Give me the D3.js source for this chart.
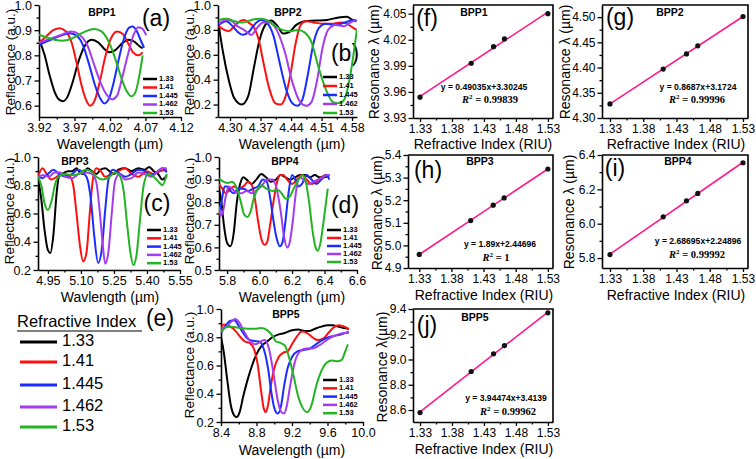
<!DOCTYPE html>
<html><head><meta charset="utf-8">
<script src="https://cdn.jsdelivr.net/npm/d3@7"></script>
<style>
body{margin:0;background:#fff}
svg text{font-family:"Liberation Sans",Arial,sans-serif;fill:#000}
</style></head>
<body><svg id="c" width="756" height="459"></svg>
<script>
// ---------- DATA ----------
const indices = ["1.33","1.41","1.445","1.462","1.53"];
const riu = [1.33, 1.41, 1.445, 1.462, 1.53];
const colors = ["#000000","#ff1010","#1a2cff","#a33cf0","#22b422"];

// Panel (a) BPP1 reflectance [wavelength, R]
const a133 = [[3.920,0.865],[3.928,0.80],[3.935,0.72],[3.942,0.655],[3.948,0.625],[3.954,0.618],[3.960,0.635],[3.967,0.69],[3.975,0.77],[3.984,0.835],[3.994,0.862],[4.004,0.85],[4.012,0.825],[4.019,0.812],[4.028,0.822],[4.038,0.85],[4.046,0.862],[4.054,0.855],[4.062,0.835],[4.066,0.828]];
const a141 = [[3.920,0.85],[3.930,0.875],[3.940,0.9],[3.949,0.908],[3.958,0.895],[3.966,0.85],[3.973,0.77],[3.980,0.68],[3.986,0.625],[3.992,0.60],[3.999,0.625],[4.006,0.70],[4.013,0.79],[4.021,0.865],[4.030,0.895],[4.038,0.885],[4.046,0.845],[4.053,0.81],[4.060,0.80],[4.066,0.812]];
const a1445 = [[3.920,0.843],[3.935,0.86],[3.950,0.878],[3.963,0.888],[3.972,0.88],[3.982,0.84],[3.991,0.76],[3.999,0.68],[4.006,0.63],[4.012,0.609],[4.018,0.625],[4.025,0.69],[4.032,0.78],[4.040,0.87],[4.047,0.91],[4.052,0.915],[4.058,0.895],[4.064,0.855],[4.068,0.83]];
const a1462 = [[3.920,0.85],[3.935,0.865],[3.950,0.88],[3.966,0.895],[3.976,0.885],[3.988,0.84],[3.998,0.76],[4.007,0.69],[4.015,0.645],[4.023,0.625],[4.030,0.64],[4.037,0.71],[4.045,0.80],[4.053,0.88],[4.060,0.912],[4.066,0.905],[4.071,0.88]];
const a153 = [[3.920,0.882],[3.930,0.872],[3.942,0.862],[3.953,0.858],[3.965,0.865],[3.978,0.885],[3.990,0.9],[3.998,0.905],[4.008,0.895],[4.018,0.855],[4.027,0.79],[4.036,0.71],[4.044,0.655],[4.050,0.637],[4.056,0.655],[4.062,0.73],[4.066,0.80]];

// Panel (b) BPP2
const b133 = [[4.274,0.84],[4.284,0.62],[4.297,0.40],[4.310,0.25],[4.327,0.20],[4.342,0.27],[4.355,0.50],[4.368,0.72],[4.381,0.84],[4.394,0.875],[4.409,0.83],[4.422,0.77],[4.435,0.78],[4.452,0.84],[4.471,0.87],[4.497,0.875],[4.523,0.88],[4.549,0.90],[4.568,0.905],[4.581,0.88],[4.590,0.87]];
const b141 = [[4.274,0.83],[4.287,0.80],[4.297,0.79],[4.310,0.83],[4.323,0.87],[4.332,0.88],[4.342,0.86],[4.355,0.82],[4.366,0.72],[4.376,0.55],[4.390,0.33],[4.404,0.21],[4.416,0.20],[4.426,0.25],[4.439,0.45],[4.451,0.70],[4.462,0.84],[4.475,0.87],[4.491,0.86],[4.510,0.85],[4.536,0.85],[4.555,0.86],[4.568,0.85],[4.581,0.82],[4.590,0.80]];
const b1445 = [[4.274,0.84],[4.291,0.87],[4.306,0.83],[4.319,0.78],[4.329,0.76],[4.342,0.78],[4.358,0.85],[4.371,0.88],[4.384,0.86],[4.400,0.75],[4.413,0.55],[4.429,0.32],[4.443,0.21],[4.454,0.19],[4.466,0.24],[4.479,0.45],[4.492,0.70],[4.505,0.82],[4.520,0.85],[4.538,0.84],[4.555,0.85],[4.572,0.87],[4.585,0.88],[4.590,0.87]];
const b1462 = [[4.274,0.85],[4.291,0.88],[4.304,0.87],[4.317,0.83],[4.332,0.80],[4.349,0.76],[4.363,0.82],[4.376,0.86],[4.391,0.86],[4.407,0.80],[4.426,0.62],[4.443,0.38],[4.461,0.22],[4.475,0.19],[4.487,0.22],[4.500,0.40],[4.512,0.65],[4.525,0.80],[4.542,0.84],[4.562,0.83],[4.577,0.86],[4.590,0.88]];
const b153 = [[4.274,0.88],[4.291,0.89],[4.310,0.87],[4.329,0.86],[4.349,0.88],[4.368,0.89],[4.384,0.88],[4.400,0.84],[4.420,0.80],[4.439,0.79],[4.456,0.80],[4.471,0.78],[4.487,0.70],[4.503,0.50],[4.520,0.32],[4.536,0.22],[4.549,0.21],[4.562,0.24],[4.574,0.40],[4.584,0.62],[4.591,0.80]];

// Panel (c) BPP3
const c133 = [[4.905,0.85],[4.920,0.70],[4.935,0.48],[4.950,0.34],[4.961,0.32],[4.975,0.45],[4.990,0.75],[5.000,0.86],[5.015,0.88],[5.040,0.90],[5.060,0.90],[5.080,0.92],[5.095,0.89],[5.110,0.88],[5.130,0.92],[5.150,0.90],[5.170,0.88],[5.190,0.91],[5.210,0.92],[5.230,0.90],[5.250,0.88],[5.270,0.91],[5.300,0.92],[5.330,0.90],[5.360,0.92],[5.390,0.91],[5.410,0.93],[5.430,0.90],[5.450,0.88],[5.470,0.84],[5.490,0.87]];
const c141 = [[4.905,0.86],[4.925,0.92],[4.945,0.88],[4.965,0.84],[4.990,0.86],[5.010,0.88],[5.030,0.87],[5.050,0.86],[5.065,0.80],[5.080,0.60],[5.095,0.38],[5.110,0.26],[5.125,0.32],[5.140,0.60],[5.155,0.85],[5.170,0.92],[5.190,0.90],[5.210,0.86],[5.240,0.88],[5.270,0.90],[5.300,0.92],[5.330,0.88],[5.360,0.86],[5.400,0.90],[5.430,0.88],[5.460,0.90],[5.490,0.91]];
const c1445 = [[4.905,0.87],[4.925,0.85],[4.950,0.88],[4.975,0.91],[5.000,0.88],[5.030,0.86],[5.060,0.88],[5.085,0.91],[5.110,0.89],[5.130,0.84],[5.145,0.70],[5.160,0.45],[5.178,0.25],[5.195,0.35],[5.210,0.62],[5.225,0.84],[5.245,0.91],[5.270,0.89],[5.300,0.86],[5.330,0.88],[5.360,0.91],[5.390,0.90],[5.420,0.87],[5.450,0.90],[5.470,0.92],[5.490,0.89]];
const c1462 = [[4.905,0.86],[4.930,0.87],[4.955,0.86],[4.980,0.89],[5.005,0.89],[5.030,0.86],[5.060,0.85],[5.090,0.88],[5.120,0.89],[5.150,0.88],[5.170,0.82],[5.185,0.62],[5.198,0.40],[5.210,0.245],[5.225,0.33],[5.240,0.60],[5.255,0.83],[5.275,0.88],[5.300,0.84],[5.330,0.85],[5.360,0.89],[5.390,0.88],[5.420,0.86],[5.450,0.90],[5.470,0.92],[5.490,0.92]];
const c153 = [[4.905,0.86],[4.920,0.80],[4.935,0.67],[4.950,0.625],[4.965,0.68],[4.985,0.82],[5.005,0.87],[5.030,0.88],[5.060,0.87],[5.090,0.88],[5.120,0.91],[5.145,0.90],[5.170,0.86],[5.200,0.84],[5.230,0.86],[5.255,0.89],[5.275,0.87],[5.295,0.75],[5.310,0.52],[5.325,0.32],[5.338,0.235],[5.352,0.30],[5.368,0.55],[5.385,0.80],[5.405,0.88],[5.430,0.86],[5.455,0.82],[5.470,0.80],[5.490,0.88]];

// Panel (d) BPP4
const d133 = [[5.750,0.86],[5.765,0.80],[5.780,0.70],[5.800,0.62],[5.820,0.605],[5.840,0.66],[5.860,0.80],[5.880,0.88],[5.900,0.91],[5.920,0.90],[5.950,0.88],[5.980,0.90],[6.010,0.925],[6.040,0.91],[6.070,0.89],[6.100,0.90],[6.130,0.92],[6.160,0.91],[6.190,0.90],[6.220,0.91],[6.250,0.92],[6.280,0.92],[6.310,0.91],[6.340,0.92],[6.370,0.91],[6.400,0.91],[6.430,0.92]];
const d141 = [[5.750,0.88],[5.770,0.86],[5.790,0.84],[5.810,0.85],[5.840,0.87],[5.870,0.86],[5.900,0.87],[5.930,0.89],[5.950,0.88],[5.970,0.82],[5.990,0.72],[6.010,0.64],[6.030,0.612],[6.045,0.62],[6.065,0.70],[6.085,0.80],[6.105,0.88],[6.125,0.92],[6.145,0.92],[6.170,0.90],[6.200,0.88],[6.230,0.90],[6.260,0.92],[6.290,0.90],[6.320,0.88],[6.350,0.89],[6.380,0.91],[6.410,0.92],[6.430,0.92]];
const d1445 = [[5.750,0.75],[5.765,0.80],[5.785,0.87],[5.800,0.87],[5.820,0.85],[5.840,0.84],[5.870,0.86],[5.900,0.86],[5.930,0.85],[5.960,0.86],[5.990,0.87],[6.020,0.90],[6.045,0.89],[6.065,0.82],[6.085,0.72],[6.105,0.64],[6.125,0.605],[6.140,0.62],[6.160,0.72],[6.180,0.85],[6.200,0.92],[6.220,0.90],[6.240,0.87],[6.260,0.88],[6.290,0.92],[6.320,0.90],[6.350,0.88],[6.380,0.90],[6.410,0.92],[6.430,0.90]];
const d1462 = [[5.750,0.78],[5.760,0.74],[5.775,0.76],[5.790,0.82],[5.810,0.87],[5.830,0.86],[5.860,0.84],[5.890,0.84],[5.920,0.85],[5.950,0.84],[5.980,0.85],[6.010,0.87],[6.050,0.90],[6.080,0.90],[6.105,0.86],[6.130,0.76],[6.150,0.65],[6.170,0.60],[6.185,0.62],[6.205,0.72],[6.225,0.85],[6.245,0.91],[6.270,0.90],[6.300,0.88],[6.330,0.89],[6.360,0.90],[6.390,0.91],[6.420,0.92],[6.430,0.92]];
const d153 = [[5.750,0.905],[5.780,0.89],[5.805,0.885],[5.830,0.89],[5.860,0.86],[5.885,0.80],[5.905,0.745],[5.925,0.735],[5.945,0.76],[5.965,0.82],[5.990,0.86],[6.010,0.875],[6.040,0.86],[6.080,0.85],[6.110,0.855],[6.140,0.835],[6.160,0.815],[6.180,0.82],[6.210,0.86],[6.240,0.90],[6.265,0.92],[6.285,0.89],[6.305,0.80],[6.325,0.68],[6.345,0.60],[6.358,0.585],[6.375,0.62],[6.395,0.72],[6.420,0.86]];

// Panel (e) BPP5
const e133 = [[8.400,0.80],[8.430,0.70],[8.470,0.50],[8.510,0.32],[8.545,0.25],[8.575,0.235],[8.610,0.27],[8.650,0.38],[8.700,0.50],[8.750,0.60],[8.800,0.68],[8.860,0.74],[8.920,0.77],[8.980,0.80],[9.050,0.82],[9.120,0.83],[9.200,0.85],[9.270,0.855],[9.340,0.845],[9.400,0.845],[9.460,0.86],[9.530,0.875],[9.600,0.885],[9.660,0.885],[9.720,0.875],[9.780,0.865],[9.840,0.86]];
const e141 = [[8.400,0.86],[8.430,0.89],[8.470,0.885],[8.520,0.87],[8.570,0.84],[8.620,0.80],[8.670,0.77],[8.720,0.76],[8.770,0.72],[8.810,0.62],[8.850,0.43],[8.880,0.30],[8.905,0.27],[8.930,0.32],[8.960,0.45],[9.000,0.58],[9.050,0.66],[9.100,0.69],[9.150,0.70],[9.200,0.75],[9.260,0.81],[9.310,0.84],[9.370,0.83],[9.430,0.80],[9.490,0.78],[9.550,0.79],[9.610,0.83],[9.670,0.87],[9.730,0.885],[9.790,0.875],[9.840,0.855]];
const e1445 = [[8.400,0.83],[8.450,0.88],[8.500,0.915],[8.550,0.92],[8.600,0.88],[8.650,0.83],[8.700,0.79],[8.760,0.775],[8.830,0.77],[8.880,0.72],[8.930,0.58],[8.970,0.40],[9.000,0.30],[9.040,0.26],[9.075,0.31],[9.110,0.45],[9.150,0.58],[9.200,0.66],[9.260,0.70],[9.330,0.71],[9.400,0.72],[9.470,0.75],[9.540,0.78],[9.610,0.80],[9.680,0.81],[9.750,0.82],[9.840,0.84]];
const e1462 = [[8.400,0.85],[8.450,0.87],[8.500,0.90],[8.560,0.93],[8.610,0.90],[8.660,0.84],[8.720,0.78],[8.790,0.75],[8.850,0.77],[8.890,0.78],[8.940,0.72],[8.990,0.55],[9.040,0.35],[9.080,0.27],[9.110,0.26],[9.140,0.31],[9.180,0.46],[9.230,0.62],[9.290,0.70],[9.360,0.72],[9.430,0.72],[9.500,0.74],[9.570,0.77],[9.640,0.80],[9.720,0.82],[9.800,0.83],[9.840,0.83]];
const e153 = [[8.400,0.84],[8.450,0.87],[8.500,0.875],[8.560,0.87],[8.620,0.865],[8.700,0.86],[8.780,0.86],[8.850,0.865],[8.920,0.85],[8.980,0.81],[9.020,0.77],[9.070,0.76],[9.120,0.74],[9.170,0.65],[9.220,0.52],[9.270,0.38],[9.320,0.30],[9.370,0.27],[9.420,0.32],[9.470,0.45],[9.530,0.56],[9.590,0.62],[9.650,0.635],[9.710,0.63],[9.760,0.64],[9.800,0.70],[9.830,0.75]];

// Resonance wavelength vs refractive index (f)-(j)
const res1 = [3.954, 3.993, 4.012, 4.021, 4.050];
const res2 = [4.328, 4.397, 4.427, 4.443, 4.501];
const res3 = [4.960, 5.110, 5.178, 5.210, 5.338];
const res4 = [5.820, 6.040, 6.133, 6.176, 6.355];
const res5 = [8.580, 8.905, 9.045, 9.110, 9.370];

// tick labels
const ticksXa = [3.92,3.97,4.02,4.07,4.12];
const ticksXb = [4.30,4.37,4.44,4.51,4.58];
const ticksXc = [4.95,5.10,5.25,5.40,5.55];
const ticksXd = [5.8,6.0,6.2,6.4,6.6];
const ticksXe = [8.4,8.8,9.2,9.6,10.0];
const ticksYa = [0.6,0.7,0.8,0.9,1.0];
const ticksYb = [0.2,0.4,0.6,0.8,1.0];
const ticksYd = [0.5,0.6,0.7,0.8,0.9,1.0];
const ticksRIU = [1.33,1.38,1.43,1.48,1.53];
const ticksYf = [3.93,3.96,3.99,4.02,4.05];
const ticksYg = [4.30,4.35,4.40,4.45,4.50];
const ticksYh = [4.9,5.0,5.1,5.2,5.3,5.4];
const ticksYi = [5.8,6.0,6.2,6.4];
const ticksYj = [8.6,8.8,9.0,9.2,9.4];

const eqs = ["y = 0.49035x+3.30245","y = 0.8687x+3.1724","y = 1.89x+2.44696","y = 2.68695x+2.24896","y = 3.94474x+3.4139"];
const r2s = ["0.99839","0.99996","1","0.99992","0.99962"];

// ---------- DRAWING ----------
const svg = d3.select("#c");
svg.append("rect").attr("width",756).attr("height",459).attr("fill","#fff");

function mids(t, dom){
  const m=[];
  for(let i=0;i<t.length-1;i++) m.push((t[i]+t[i+1])/2);
  const s=t[1]-t[0];
  if(t[0]-s/2>=Math.min(...dom)-1e-9) m.unshift(t[0]-s/2);
  if(t[t.length-1]+s/2<=Math.max(...dom)+1e-9) m.push(t[t.length-1]+s/2);
  return m;
}

function frame(c){
  const g = svg.append("g");
  const x = d3.scaleLinear().domain(c.xd).range([c.l,c.r]);
  const y = d3.scaleLinear().domain(c.yd).range([c.b,c.t]);
  g.append("g").attr("transform",`translate(0,${c.b})`)
    .call(d3.axisBottom(x).tickValues(mids(c.xt,c.xd)).tickSize(2.5).tickFormat(""))
    .call(s=>s.select(".domain").remove());
  g.append("g").attr("transform",`translate(${c.l},0)`)
    .call(d3.axisLeft(y).tickValues(mids(c.yt,c.yd)).tickSize(2.5).tickFormat(""))
    .call(s=>s.select(".domain").remove());
  g.append("g").attr("transform",`translate(0,${c.b})`)
    .call(d3.axisBottom(x).tickValues(c.xt).tickFormat(d3.format(c.xf)).tickSize(4).tickSizeOuter(0).tickPadding(c.tp||2));
  g.append("g").attr("transform",`translate(${c.l},0)`)
    .call(d3.axisLeft(y).tickValues(c.yt).tickFormat(d3.format(c.yf)).tickSize(4.5).tickSizeOuter(0).tickPadding(c.tp||2.5));
  g.selectAll(".tick line").attr("stroke","#000").attr("stroke-width",1.3);
  g.selectAll(".domain").attr("stroke","#000").attr("stroke-width",1.6);
  g.selectAll(".tick text").attr("font-size",c.tf||12.5).attr("font-family",'"Liberation Sans",Arial,sans-serif').attr("fill","#000");
  if(c.box){
    g.append("path").attr("d",`M${c.l},${c.t}H${c.r}V${c.b}`).attr("fill","none").attr("stroke","#000").attr("stroke-width",1.6);
  }
  g.append("text").attr("x",c.xlx).attr("y",c.xly).attr("text-anchor","middle").attr("dominant-baseline","middle")
    .attr("font-size",14).text(c.xlab);
  g.append("text").attr("transform",`translate(${c.ylx},${c.yly}) rotate(-90)`).attr("text-anchor","middle")
    .attr("dominant-baseline","middle").attr("font-size",c.ylf||13.5).text(c.ylab);
  if(c.tag[0]) g.append("text").attr("x",c.tag[1]).attr("y",c.tag[2]).attr("text-anchor","middle").attr("dominant-baseline","middle")
    .attr("font-size",23).text(c.tag[0]);
  g.append("text").attr("x",c.bpp[1]).attr("y",c.bpp[2]).attr("text-anchor","middle").attr("dominant-baseline","middle")
    .attr("font-size",10.5).attr("font-weight","bold").text(c.bpp[0]);
  return {g,x,y};
}

function reflPanel(c, series){
  const {g,x,y} = frame(c);
  const id = "clip"+c.bpp[0];
  svg.append("clipPath").attr("id",id).append("rect").attr("x",c.l).attr("y",c.t-3).attr("width",c.r-c.l).attr("height",c.b-c.t+3);
  const line = d3.line().x(d=>x(d[0])).y(d=>y(d[1])).curve(d3.curveMonotoneX);
  series.forEach((s,i)=>{
    g.append("path").datum(s).attr("d",line).attr("fill","none").attr("stroke",colors[i])
      .attr("stroke-width",2).attr("clip-path",`url(#${id})`);
  });
  const lg = g.append("g");
  indices.forEach((t,i)=>{
    const yy = c.leg[1] + i*c.leg[2];
    lg.append("line").attr("x1",c.leg[0]).attr("x2",c.leg[0]+14).attr("y1",yy).attr("y2",yy)
      .attr("stroke",colors[i]).attr("stroke-width",2.5);
    lg.append("text").attr("x",c.leg[0]+16).attr("y",yy).attr("dominant-baseline","middle")
      .attr("font-size",7.5).attr("font-weight","bold").text(t);
  });
}

function fitPanel(c, res, k){
  const {g,x,y} = frame(c);
  const mx = d3.mean(riu), my = d3.mean(res);
  const sl = d3.sum(riu.map((v,i)=>(v-mx)*(res[i]-my)))/d3.sum(riu.map(v=>(v-mx)*(v-mx)));
  const ic = my - sl*mx;
  const ends = [riu[0], riu[riu.length-1]];
  g.append("line").attr("x1",x(ends[0])).attr("y1",y(ic+sl*ends[0])).attr("x2",x(ends[1])).attr("y2",y(ic+sl*ends[1]))
    .attr("stroke","#ff1a8c").attr("stroke-width",1.6);
  g.selectAll("circle.p").data(riu).enter().append("circle")
    .attr("cx",d=>x(d)).attr("cy",(d,i)=>y(res[i])).attr("r",2.6).attr("fill","#111");
  g.append("text").attr("x",c.eq[0]).attr("y",c.eq[1]).attr("text-anchor","middle").attr("dominant-baseline","middle")
    .attr("font-size",8.6).attr("font-weight","bold").attr("fill","#1c2466")
    .style("font-family",'"Liberation Sans Narrow","Arial Narrow","Liberation Sans",Arial,sans-serif')
    .text(eqs[k]);
  const t = g.append("text").attr("x",c.r2[0]).attr("y",c.r2[1]).attr("text-anchor","middle").attr("dominant-baseline","middle")
    .attr("font-size",10.5).attr("font-weight","bold").attr("fill","#222")
    .style("font-family",'"Liberation Serif","DejaVu Serif",serif');
  t.append("tspan").attr("font-style","italic").text("R");
  t.append("tspan").attr("font-size",7).attr("dy",-4).text("2");
  t.append("tspan").attr("dy",4).text(" = "+r2s[k]);
}

const WL = "Wavelength (\u00b5m)";
const RF = "Reflectance (a.u.)";
const RI = "Refractive Index (RIU)";
const RL = "Resonance \u03bb (\u00b5m)";

reflPanel({l:39,r:181,t:5,b:117,xd:[3.92,4.12],yd:[0.555,1.0],xt:ticksXa,yt:ticksYa,xf:".2f",yf:".1f",
  xlab:WL,xlx:110,xly:145,ylab:RF,ylx:11,yly:62,tag:["(a)",156,20],bpp:["BPP1",102,13],leg:[143,79,8.5]},
  [a133,a141,a1445,a1462,a153]);
reflPanel({l:218,r:357,t:5,b:117,xd:[4.2725,4.5913],yd:[0.1,1.0],xt:ticksXb,yt:ticksYb,xf:".2f",yf:".1f",
  xlab:WL,xlx:292,xly:145,ylab:RF,ylx:190,yly:62,tag:["(b)",345,55],bpp:["BPP2",288,13],leg:[323,77,9]},
  [b133,b141,b1445,b1462,b153]);
reflPanel({l:38,r:180,t:157,b:270,xd:[4.905,5.55],yd:[0.2,1.0],xt:ticksXc,yt:ticksYb,xf:".2f",yf:".1f",
  xlab:"Wavlength (\u00b5m)",xlx:110,xly:298,ylab:RF,ylx:10,yly:211,tag:["(c)",157,205],bpp:["BPP3",75,162],leg:[147,230,8.3]},
  [c133,c141,c1445,c1462,c153]);
reflPanel({l:219,r:357,t:157,b:270,xd:[5.75,6.6],yd:[0.5,1.0],xt:ticksXd,yt:ticksYd,xf:".1f",yf:".1f",
  xlab:WL,xlx:292,xly:298,ylab:RF,ylx:190,yly:211,tag:["(d)",345,207],bpp:["BPP4",285,162],leg:[327,230,8]},
  [d133,d141,d1445,d1462,d153]);
reflPanel({l:221,r:363,t:309,b:422,xd:[8.4,10.0],yd:[0.2,1.0],xt:ticksXe,yt:ticksYb,xf:".1f",yf:".1f",
  xlab:WL,xlx:292,xly:451,ylab:RF,ylx:190,yly:365,tag:["",0,0],bpp:["BPP5",286,315],leg:[323,380,8.3]},
  [e133,e141,e1445,e1462,e153]);

const RP = {tf:12, tp:2, box:true, ylf:14};
fitPanel(Object.assign({l:413,r:553,t:5,b:118,xd:[1.319,1.538],yd:[3.93,4.06],xt:ticksRIU,yt:ticksYf,xf:".2f",yf:".2f",
  xlab:RI,xlx:483,xly:145,ylab:RL,ylx:375,yly:62,tag:["(f)",427,20],bpp:["BPP1",474,13],eq:[484,88],r2:[490,101]},RP), res1, 0);
fitPanel(Object.assign({l:602,r:748,t:5,b:118,xd:[1.318,1.5375],yd:[4.30,4.524],xt:ticksRIU,yt:ticksYg,xf:".2f",yf:".2f",
  xlab:RI,xlx:676,xly:145,ylab:RL,ylx:566,yly:62,tag:["(g)",620,19],bpp:["BPP2",670,13],eq:[698,88],r2:[697,101]},RP), res2, 1);
fitPanel(Object.assign({l:408,r:553,t:155,b:268,xd:[1.3125,1.538],yd:[4.9,5.4],xt:ticksRIU,yt:ticksYh,xf:".2f",yf:".1f",
  xlab:RI,xlx:484,xly:296,ylab:RL,ylx:378,yly:213,tag:["(h)",428,172],bpp:["BPP3",480,162],eq:[500,245],r2:[496,259]},RP), res3, 2);
fitPanel(Object.assign({l:602,r:748,t:155,b:268,xd:[1.318,1.5375],yd:[5.742,6.4],xt:ticksRIU,yt:ticksYi,xf:".2f",yf:".1f",
  xlab:RI,xlx:676,xly:296,ylab:RL,ylx:570,yly:212,tag:["(i)",615,170],bpp:["BPP4",678,162],eq:[698,242],r2:[697,256]},RP), res4, 3);
fitPanel(Object.assign({l:413,r:553,t:309,b:422,xd:[1.319,1.538],yd:[8.505,9.4],xt:ticksRIU,yt:ticksYj,xf:".2f",yf:".1f",
  xlab:RI,xlx:484,xly:450,ylab:"Resonance \u03bb(\u00b5m)",ylx:383,yly:367,tag:["(j)",427,327],bpp:["BPP5",475,318],eq:[506,399],r2:[508,413]},RP), res5, 4);

// big legend (e)
const L = svg.append("g");
L.append("text").attr("x",17).attr("y",323).attr("dominant-baseline","middle").attr("font-size",16.5).text("Refractive Index");
L.append("line").attr("x1",17).attr("x2",142).attr("y1",331).attr("y2",331).attr("stroke","#000").attr("stroke-width",1);
L.append("text").attr("x",160).attr("y",320).attr("text-anchor","middle").attr("dominant-baseline","middle").attr("font-size",23).text("(e)");
const legY = [342,362,385,407,427];
indices.forEach((t,i)=>{
  L.append("line").attr("x1",20).attr("x2",57).attr("y1",legY[i]).attr("y2",legY[i]).attr("stroke",colors[i]).attr("stroke-width",3.2);
  L.append("text").attr("x",62).attr("y",legY[i]).attr("dominant-baseline","middle").attr("font-size",16.5).text(t);
});
</script></body></html>
